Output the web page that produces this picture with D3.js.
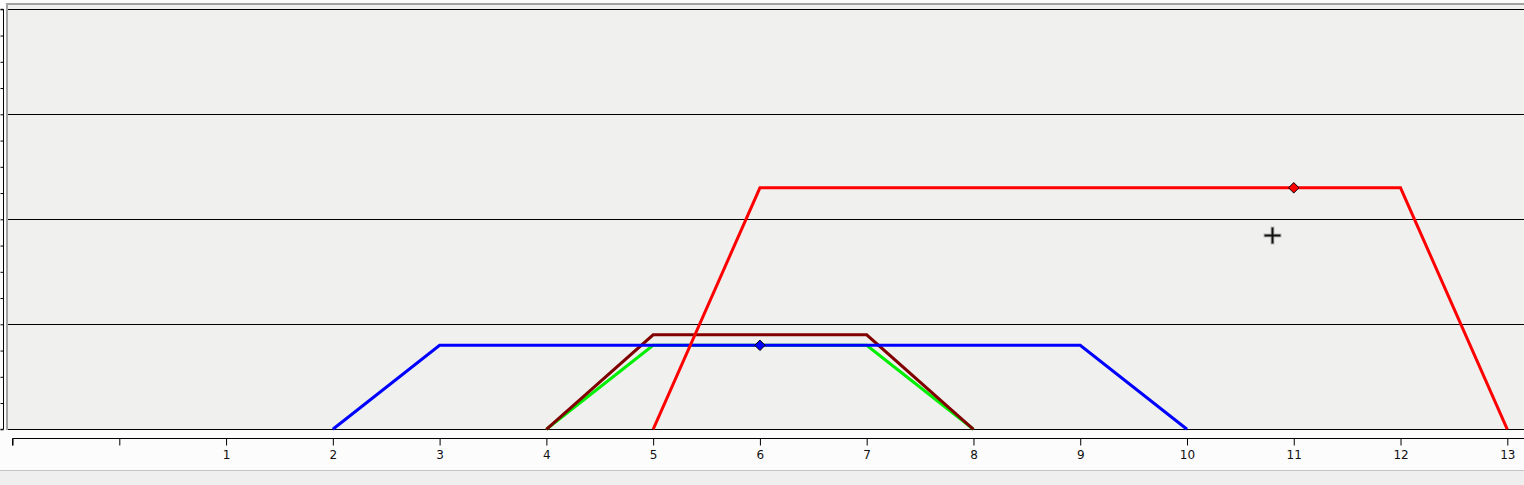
<!DOCTYPE html>
<html><head><meta charset="utf-8">
<script src="https://cdn.jsdelivr.net/npm/d3@7"></script>
<style>html,body{margin:0;padding:0;background:#efefef;overflow:hidden}svg{display:block}</style>
</head><body>
<script>
const xTicks = [-1,0,1,2,3,4,5,6,7,8,9,10,11,12,13];
const yMinorTicks = d3.range(0, 4.01, 0.25);
const yGrid = [0,1,2,3,4];

const blueX = [2,3,9,10];   const blueY = [0,0.8,0.8,0];
const greenX = [4,5,7,8];   const greenY = [0,0.8,0.8,0];
const brownX = [4,5,7,8];   const brownY = [0,0.9,0.9,0];
const redX = [5,6,12,13];   const redY = [0,2.3,2.3,0];
const blueMarker = [6,0.8];
const redMarker = [11,2.3];
const cursorPos = [10.8, 1.85];

const W=1524,H=485;
const svg=d3.select("body").append("svg").attr("width",W).attr("height",H);
svg.append("rect").attr("width",W).attr("height",H).attr("fill","#efefef");
svg.append("rect").attr("width",W).attr("height",470).attr("fill","#fcfcfc");
svg.append("line").attr("x1",0).attr("x2",W).attr("y1",470.5).attr("y2",470.5).attr("stroke","#c4c4c4");

const x=d3.scaleLinear().domain([0,13]).range([119.3,1507.3]);
const y=d3.scaleLinear().domain([0,4]).range([429.3,9.3]);

// plot background
svg.append("rect").attr("x",6).attr("y",3).attr("width",W-6).attr("height",427).attr("fill","#f0f1ef");
svg.append("rect").attr("x",6).attr("y",3).attr("width",W-6).attr("height",2).attr("fill","#a2a2a2");
svg.append("rect").attr("x",6).attr("y",3).attr("width",2).attr("height",427).attr("fill","#a2a2a2");

// grid
svg.append("g").selectAll("line").data(yGrid).join("line")
  .attr("x1",8).attr("x2",W).attr("y1",d=>Math.floor(y(d))+0.5).attr("y2",d=>Math.floor(y(d))+0.5)
  .attr("stroke","#000").attr("stroke-width",1);

// left axis
const yAxis=d3.axisLeft(y).tickValues(yMinorTicks).tickSize(3).tickFormat("");
const ga=svg.append("g").attr("transform","translate(3.5,0)").call(yAxis);
ga.select(".domain").attr("d",`M-3,${y(4)}H0V${y(0)}H-3`).attr("stroke","#000");
ga.selectAll(".tick line").attr("stroke","#000");

// bottom axis
const xAxis=d3.axisBottom(x).tickValues(xTicks).tickSize(7).tickPadding(5)
  .tickFormat(d=>d>0?String(d):"");
const gx=svg.append("g").attr("transform","translate(0,438.5)").call(xAxis);
gx.select(".domain").attr("d",`M${x(-1)},7V0H${W}`).attr("stroke","#000");
gx.selectAll(".tick line").attr("stroke","#000");
gx.selectAll("text").attr("font-family","DejaVu Sans").attr("font-size",12).attr("fill","#111");

const line=d3.line().x(d=>x(d[0])).y(d=>y(d[1]));
function series(xs,ys,color){
  svg.append("path").datum(xs.map((v,i)=>[v,ys[i]])).attr("d",line)
    .attr("fill","none").attr("stroke",color).attr("stroke-width",3).attr("stroke-linejoin","miter");
}
series(greenX,greenY,"#00ee00");
series(brownX,brownY,"#800000");
series(blueX,blueY,"#0000ff");
series(redX,redY,"#ff0000");

const diamond=d3.symbol().type(d3.symbolDiamond2).size(70);
function marker(p,color){
  svg.append("path").attr("d",diamond).attr("transform",`translate(${x(p[0])},${y(p[1])})`)
    .attr("fill",color).attr("stroke","#000").attr("stroke-width",1);
}
marker(blueMarker,"#0000ff");
marker(redMarker,"#ff0000");

// cursor crosshair
const cx=Math.round(x(cursorPos[0]))+0.5, cy=Math.round(y(cursorPos[1]))+0.5;
const cg=svg.append("g");
cg.append("path").attr("d",`M${cx-9},${cy}H${cx+9}M${cx},${cy-9}V${cy+9}`).attr("stroke","#bbb").attr("stroke-width",4);
cg.append("path").attr("d",`M${cx-8},${cy}H${cx+8}M${cx},${cy-8}V${cy+8}`).attr("stroke","#111").attr("stroke-width",2);
</script>
</body></html>
